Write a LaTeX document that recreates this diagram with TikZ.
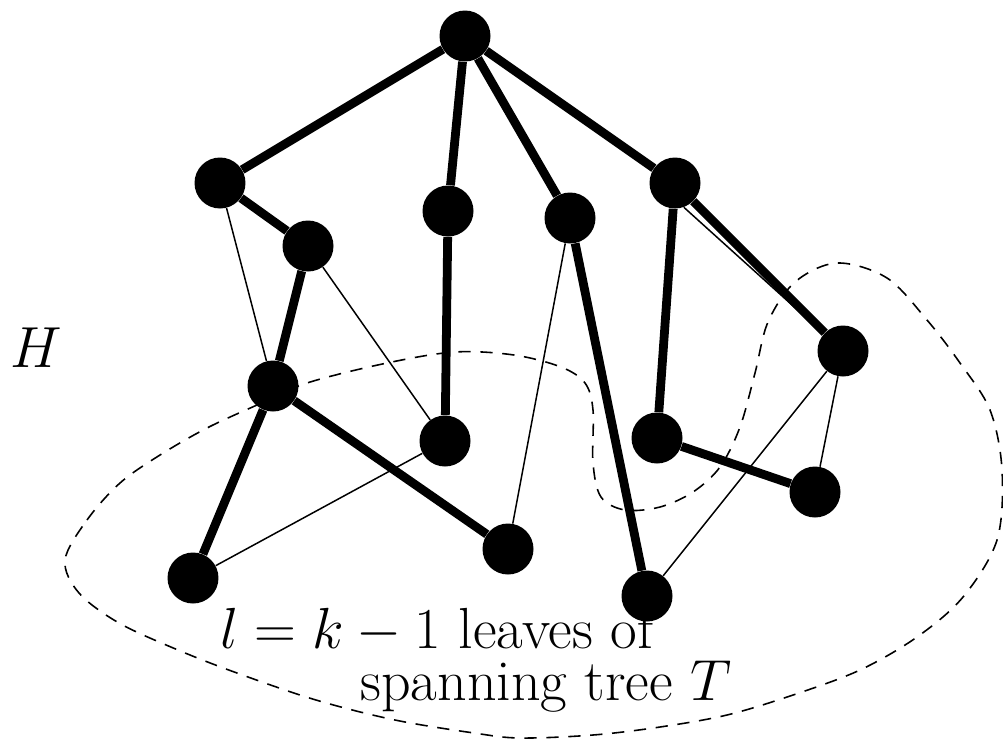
\RequirePackage{fix-cm}
\documentclass[tikz,border=0pt]{standalone}
\usepackage{amsmath,amssymb}
\usepackage{tikz}

\begin{document}
\begin{tikzpicture}[x=0.02cm,y=-0.02cm,
                vertex/.style={circle,fill,inner sep=0pt,minimum size=1.02cm},
                treeedge/.style={line width=5pt},
                graphedge/.style={line width=0.85pt},
                every node/.style={font=\fontsize{33}{33}\selectfont}]
                \useasboundingbox (0,0) rectangle (1003,741);
                % the leaves
                \draw [line width=0.9pt,dash pattern=on 7pt off 5.5pt] plot [smooth cycle,tension=0.55] coordinates {
                    (65,560) (87,520) (120,483) (160,455) (207,428) (257,405) (307,383)
                    (387,363) (455,352) (514,355) (561,367) (585,383) (593,410) (593,463)
                    (601,497) (625,510) (660,507) (693,492) (720,467) (740,427) (755,373)
                    (768,322) (795,282) (837,263) (887,278) (927,320) (960,363) (990,410)
                    (1002,470) (997,540) (963,597) (917,637) (860,670) (793,695) (727,715)
                    (660,727) (593,735) (520,738) (474,733) (395,720) (316,700) (237,673)
                    (178,650) (119,623) (79,593)};
                \node [anchor=base west,inner sep=0pt] (hname) at (10,367) {$H$};
                \node [anchor=base west,inner sep=0pt] (leaves) at (220,648) {$l=k-1$ leaves of};
                \node [anchor=base west,inner sep=0pt] (tree) at (360,700) {spanning tree $T$};
                % vertices
                \node [vertex] (r) at (465,36) {};
                \node [vertex] (a) at (220,183) {};
                \node [vertex] (b) at (308,246) {};
                \node [vertex] (c) at (448,211) {};
                \node [vertex] (d) at (570,218) {};
                \node [vertex] (e) at (675,183) {};
                \node [vertex] (f) at (843,351) {};
                \node [vertex] (g) at (273,386) {};
                \node [vertex] (h) at (445,441) {};
                \node [vertex] (i) at (657,438) {};
                \node [vertex] (j) at (815,492) {};
                \node [vertex] (k) at (193,578) {};
                \node [vertex] (l) at (508,549) {};
                \node [vertex] (m) at (647,596) {};
                % spanning tree
                \draw [treeedge] (r) -- (a);
                \draw [treeedge] (r) -- (c);
                \draw [treeedge] (r) -- (d);
                \draw [treeedge] (r) -- (e);
                \draw [treeedge] (a) -- (b);
                \draw [treeedge] (b) -- (g);
                \draw [treeedge] (g) -- (k);
                \draw [treeedge] (g) -- (l);
                \draw [treeedge] (c) -- (h);
                \draw [treeedge] (d) -- (m);
                \draw [treeedge] (e) -- (i);
                \draw [treeedge] (i) -- (j);
                \draw [treeedge] (e) -- (f);
                % other edges of H
                \draw [graphedge] (a) -- (g);
                \draw [graphedge] (b) -- (h);
                \draw [graphedge] (h) -- (k);
                \draw [graphedge] (d) -- (l);
                \draw [graphedge] (e.-70) -- (f);
                \draw [graphedge] (f) -- (m);
                \draw [graphedge] (f) -- (j);
            \end{tikzpicture}
\end{document}
